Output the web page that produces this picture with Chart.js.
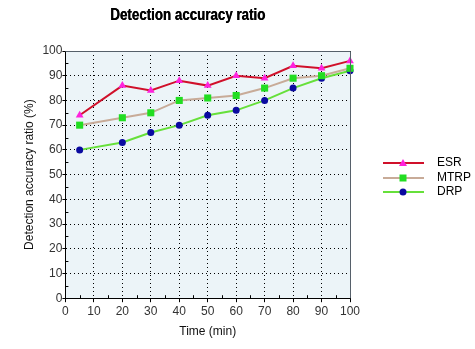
<!DOCTYPE html>
<html>
<head>
<meta charset="utf-8">
<script src="https://cdn.jsdelivr.net/npm/chart.js@4"></script>
<style>
    html, body { margin: 0; padding: 0; background: #fff; }
    #wrap { width: 475px; height: 349px; position: relative; }
</style>
</head>
<body>
<div id="wrap"><canvas id="chart" width="475" height="349"></canvas></div>
<script>
// Data
const times = [5, 20, 30, 40, 50, 60, 70, 80, 90, 100];
const esr = [74, 86, 84, 88, 86, 90, 89, 94, 93, 96];
const mtrp = [70, 73, 75, 80, 81, 82, 85, 89, 90, 93];
const drp = [60, 63, 67, 70, 74, 76, 80, 85, 89, 92];
const seriesNames = ['ESR', 'MTRP', 'DRP'];
const xTicks = [0, 10, 20, 30, 40, 50, 60, 70, 80, 90, 100];
const yTicks = [0, 10, 20, 30, 40, 50, 60, 70, 80, 90, 100];

const FONT = "'Liberation Sans', Arial, sans-serif";

function toPoints(values) {
    return times.map((t, i) => ({x: t, y: values[i]}));
}

// Plot background, minor ticks, box, title and legend
const plotDecor = {
    id: 'plotDecor',
    beforeDraw(chart) {
        const {ctx, chartArea: a} = chart;
        ctx.save();
        ctx.fillStyle = '#ecf4f8';
        ctx.fillRect(a.left, a.top, a.right - a.left, a.bottom - a.top);
        ctx.restore();
    },
    afterDatasetsDraw(chart) {
        const {ctx, chartArea: a, scales} = chart;
        ctx.save();
        ctx.strokeStyle = '#000';
        ctx.lineWidth = 1;
        // minor ticks every 5 units
        for (let v = 5; v < 100; v += 10) {
            const y = Math.round(scales.y.getPixelForValue(v)) + 0.5;
            ctx.beginPath();
            ctx.moveTo(a.left, y);
            ctx.lineTo(a.left + 3, y);
            ctx.stroke();
            const x = Math.round(scales.x.getPixelForValue(v)) + 0.5;
            ctx.beginPath();
            ctx.moveTo(x, a.bottom);
            ctx.lineTo(x, a.bottom - 3);
            ctx.stroke();
        }
        // top and right border in gray
        ctx.strokeStyle = '#56606a';
        ctx.beginPath();
        ctx.moveTo(a.left, a.top + 0.5);
        ctx.lineTo(a.right + 0.5, a.top + 0.5);
        ctx.lineTo(a.right + 0.5, a.bottom);
        ctx.stroke();
        ctx.restore();
    },
    afterDraw(chart) {
        const {ctx, chartArea: a} = chart;
        ctx.save();
        // title, condensed bold
        const title = 'Detection accuracy ratio';
        ctx.fillStyle = '#000';
        ctx.font = "bold 16px 'Liberation Sans', Arial, sans-serif";
        ctx.textAlign = 'center';
        ctx.textBaseline = 'middle';
        const w = ctx.measureText(title).width;
        const sx = 155 / w;
        ctx.translate((a.left + a.right) / 2 - 20, 15);
        ctx.scale(sx, 1.05);
        ctx.fillText(title, 0, 0);
        ctx.fillText(title, 0.4, 0);
        ctx.restore();

        // legend: line + marker + label
        ctx.save();
        const legendX = a.right + 33;
        const legendY = 163;
        const rowH = 14.5;
        chart.data.datasets.forEach((ds, i) => {
            const y = Math.round(legendY + i * rowH);
            ctx.strokeStyle = ds.borderColor;
            ctx.lineWidth = 2;
            ctx.beginPath();
            ctx.moveTo(legendX, y);
            ctx.lineTo(legendX + 41, y);
            ctx.stroke();
            const cx = legendX + 20;
            ctx.fillStyle = ds.pointBackgroundColor;
            ctx.beginPath();
            if (ds.pointStyle === 'triangle') {
                ctx.moveTo(cx, y - 4);
                ctx.lineTo(cx + 4, y + 3);
                ctx.lineTo(cx - 4, y + 3);
                ctx.closePath();
                ctx.fill();
            } else if (ds.pointStyle === 'rect') {
                ctx.fillRect(cx - 3.5, y - 3.5, 7, 7);
            } else {
                ctx.arc(cx, y, 3.5, 0, Math.PI * 2);
                ctx.fill();
            }
            ctx.fillStyle = '#000';
            ctx.font = '12px ' + FONT;
            ctx.textAlign = 'left';
            ctx.textBaseline = 'middle';
            ctx.fillText(ds.label, legendX + 54, y);
        });
        ctx.restore();
    }
};

new Chart(document.getElementById('chart').getContext('2d'), {
    type: 'line',
    data: {
        datasets: [
            {
                label: seriesNames[0],
                data: toPoints(esr),
                borderColor: '#d0102a',
                borderWidth: 2,
                pointStyle: 'triangle',
                pointRadius: 4.5,
                pointBorderWidth: 0,
                pointBackgroundColor: '#ff22dd',
                pointBorderColor: '#ff22dd',
                tension: 0
            },
            {
                label: seriesNames[1],
                data: toPoints(mtrp),
                borderColor: '#c8ab98',
                borderWidth: 2,
                pointStyle: 'rect',
                pointRadius: 5,
                pointBorderWidth: 0,
                pointBackgroundColor: '#22dd22',
                pointBorderColor: '#22dd22',
                tension: 0
            },
            {
                label: seriesNames[2],
                data: toPoints(drp),
                borderColor: '#66e03a',
                borderWidth: 2,
                pointStyle: 'circle',
                pointRadius: 3.5,
                pointBorderWidth: 0,
                pointBackgroundColor: '#0a0aa0',
                pointBorderColor: '#0a0aa0',
                tension: 0
            }
        ]
    },
    options: {
        responsive: false,
        animation: false,
        clip: false,
        layout: {
            padding: {top: 51, right: 125, left: 0, bottom: 2}
        },
        plugins: {
            legend: {display: false},
            title: {display: false},
            tooltip: {enabled: false}
        },
        scales: {
            x: {
                type: 'linear',
                min: 0,
                max: 100,
                afterBuildTicks: axis => { axis.ticks = xTicks.map(v => ({value: v})); },
                grid: {
                    color: '#000',
                    lineWidth: 1,
                    tickLength: 4,
                    tickColor: '#000'
                },
                border: {display: true, color: '#000', width: 1, dash: [1, 3]},
                ticks: {
                    color: '#333',
                    font: {family: FONT, size: 12},
                    padding: 2,
                    maxRotation: 0
                },
                title: {
                    display: true,
                    text: 'Time (min)',
                    color: '#111',
                    font: {family: FONT, size: 12},
                    padding: {top: 4, bottom: 8}
                }
            },
            y: {
                type: 'linear',
                min: 0,
                max: 100,
                afterBuildTicks: axis => { axis.ticks = yTicks.map(v => ({value: v})); },
                grid: {
                    color: '#000',
                    lineWidth: 1,
                    tickLength: 3,
                    tickColor: '#000'
                },
                border: {display: true, color: '#000', width: 1, dash: [1, 3]},
                ticks: {
                    color: '#333',
                    font: {family: FONT, size: 12},
                    padding: 0
                },
                title: {
                    display: true,
                    text: 'Detection accuracy ratio (%)',
                    color: '#111',
                    font: {family: FONT, size: 12},
                    padding: {top: 22, bottom: 6}
                }
            }
        }
    },
    plugins: [plotDecor]
});
</script>
</body>
</html>
